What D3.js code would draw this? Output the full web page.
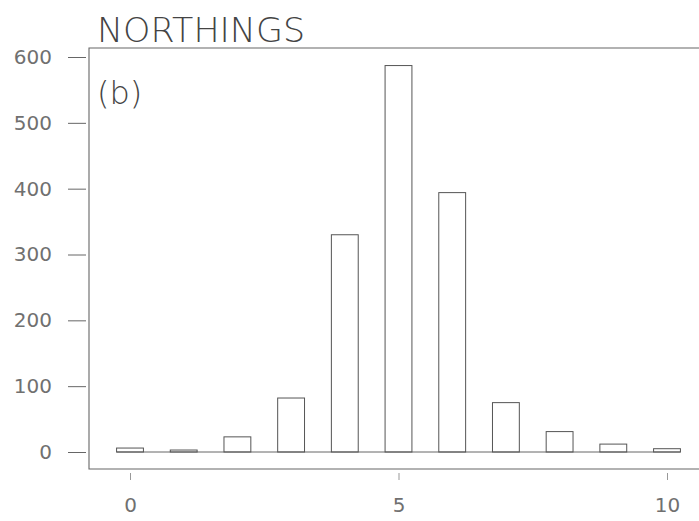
<!DOCTYPE html>
<html>
<head>
<meta charset="utf-8">
<script src="https://cdn.jsdelivr.net/npm/d3@7"></script>
<style>
    body { margin: 0; background: #fff; }
    svg { display: block; }
</style>
</head>
<body>
<div id="chart"></div>
<script>
// bin values (northings residual classes) and their counts
const categories = [0, 1, 2, 3, 4, 5, 6, 7, 8, 9, 10];
const counts = [6, 3, 23, 82, 330, 587, 394, 75, 31, 12, 5];
const yTicks = [0, 100, 200, 300, 400, 500, 600];
const xTicks = [0, 5, 10];

const width = 699, height = 521;
const frame = {"left": 89, "top": 48, "bottom": 469};
const ink = "#666";

const svg = d3.select("#chart").append("svg")
    .attr("width", width)
    .attr("height", height);

let x = d3.scaleLinear().domain([0, 10]).range([130, 667]);
let y = d3.scaleLinear().domain([0, 600]).range([452, 57]);
const halfBar = 0.25;

// frame (right side runs off the page)
svg.append("path")
    .attr("d", "M" + width + "," + frame.top + "H" + frame.left + "V" + frame.bottom + "H" + width)
    .attr("fill", "none")
    .attr("stroke", ink)
    .attr("stroke-width", 1.1);

// y axis
let yAxis = svg.append("g")
    .attr("transform", "translate(86,0)")
    .call(d3.axisLeft(y).tickValues(yTicks).tickSize(18).tickPadding(16));
yAxis.select(".domain").remove();
yAxis.selectAll("line").attr("stroke", ink);
yAxis.selectAll("text")
    .attr("fill", "#707070")
    .style("font-family", "DejaVu Sans")
    .style("font-size", "20px");

// x axis
let xAxis = svg.append("g")
    .attr("transform", "translate(0,473)")
    .call(d3.axisBottom(x).tickValues(xTicks).tickSize(7).tickPadding(18));
xAxis.select(".domain").remove();
xAxis.selectAll("line").attr("stroke", "#999");
xAxis.selectAll("text")
    .attr("fill", "#707070")
    .style("font-family", "DejaVu Sans")
    .style("font-size", "20px");

// baseline through the bars
svg.append("line")
    .attr("x1", x(categories[0] - halfBar))
    .attr("x2", x(categories[categories.length - 1] + halfBar))
    .attr("y1", y(0))
    .attr("y2", y(0))
    .attr("stroke", ink);

// bars
svg.append("g").selectAll("rect")
    .data(categories)
    .enter().append("rect")
    .attr("x", d => x(d - halfBar))
    .attr("width", d => x(d + halfBar) - x(d - halfBar))
    .attr("y", (d, i) => y(counts[i]))
    .attr("height", (d, i) => y(0) - y(counts[i]))
    .attr("fill", "none")
    .attr("stroke", "#555")
    .attr("stroke-width", 1);

// handwritten annotations
svg.append("text")
    .attr("x", 97)
    .attr("y", 42)
    .attr("textLength", 208)
    .attr("lengthAdjust", "spacingAndGlyphs")
    .attr("fill", "#444")
    .style("font-family", "DejaVu Sans")
    .style("font-weight", 200)
    .style("font-size", "34px")
    .text("NORTHINGS");

svg.append("text")
    .attr("x", 97)
    .attr("y", 104)
    .attr("fill", "#444")
    .style("font-family", "DejaVu Sans")
    .style("font-weight", 200)
    .style("font-size", "32px")
    .text("(b)");
</script>
</body>
</html>
